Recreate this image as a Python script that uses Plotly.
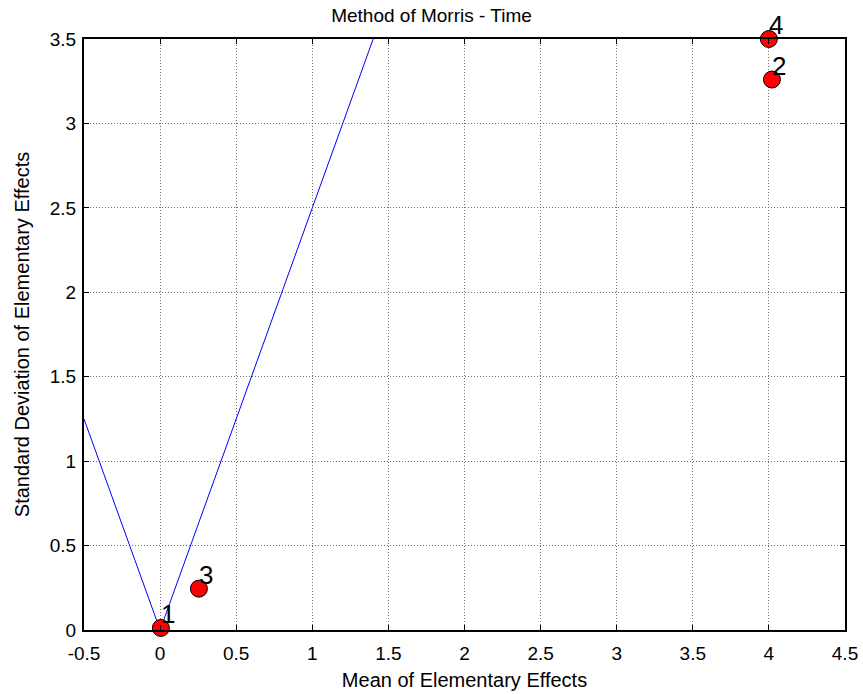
import plotly.graph_objects as go

# data
point_labels = ["1", "2", "3", "4"]
mean_ee = [0.005, 4.02, 0.255, 4.0]
std_ee = [0.012, 3.26, 0.245, 3.5]
line_x = [-0.5, 0.0, 1.4]
line_y = [1.25, 0.0, 3.5]
x_ticks = [-0.5, 0, 0.5, 1, 1.5, 2, 2.5, 3, 3.5, 4, 4.5]
y_ticks = [0, 0.5, 1, 1.5, 2, 2.5, 3, 3.5]

FONT = "Arial, Liberation Sans, sans-serif"

fig = go.Figure()
fig.add_trace(go.Scatter(x=line_x, y=line_y, mode="lines",
                         line=dict(color="#0000ff", width=1), showlegend=False))
fig.add_trace(go.Scatter(x=mean_ee, y=std_ee, mode="markers",
                         marker=dict(color="#ff0000", size=17, line=dict(color="black", width=1)),
                         showlegend=False, cliponaxis=False))

for lbl, xv, yv in zip(point_labels, mean_ee, std_ee):
    fig.add_annotation(x=xv, y=yv, text=lbl, showarrow=False,
                       xanchor="left", yanchor="bottom", xshift=-2, yshift=-3,
                       font=dict(family=FONT, size=26, color="black"))

axis_common = dict(showline=True, linecolor="black", linewidth=2, mirror="ticks",
                   ticks="inside", ticklen=5, tickcolor="black",
                   showgrid=True, gridcolor="#6f6f6f", griddash="1px,2px", gridwidth=1,
                   zeroline=False, automargin=False,
                   tickfont=dict(family=FONT, size=19, color="black"))

fig.update_xaxes(range=[-0.5, 4.5], tickvals=x_ticks,
                 ticktext=[f"{v:g}" for v in x_ticks],
                 title=dict(text="Mean of Elementary Effects",
                            font=dict(family=FONT, size=20, color="black"),
                            standoff=10),
                 ticklabelstandoff=5,
                 **axis_common)
fig.update_yaxes(range=[0, 3.5], tickvals=y_ticks,
                 ticktext=[f"{v:g}" for v in y_ticks],
                 title=dict(text="Standard Deviation of Elementary Effects",
                            font=dict(family=FONT, size=20, color="black"),
                            standoff=15),
                 ticklabelstandoff=2,
                 **axis_common)

fig.update_layout(width=863, height=694,
                  margin=dict(l=84, r=18, t=39, b=64),
                  paper_bgcolor="white", plot_bgcolor="white",
                  title=dict(text="Method of Morris - Time", x=0.5, xanchor="center",
                             y=0.978, yanchor="middle",
                             font=dict(family=FONT, size=19, color="black")))

fig.write_html("out.html")
